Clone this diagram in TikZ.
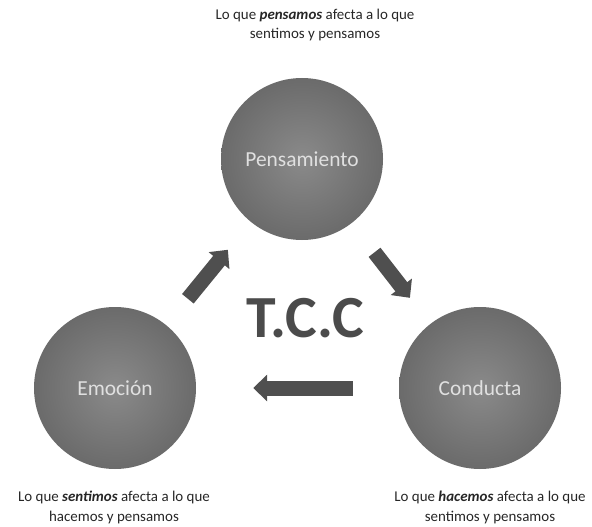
\documentclass[tikz,border=0pt]{standalone}
\usepackage{fontspec}
\setmainfont{Carlito}
\usetikzlibrary{arrows.meta, positioning}

\definecolor{orbin}{HTML}{8A8A8A}
\definecolor{orbmid}{HTML}{6C6C6C}
\definecolor{orbedge}{HTML}{575757}
\definecolor{orbout}{HTML}{464646}
\definecolor{arrowgray}{HTML}{4F4F4F}
\definecolor{titlegray}{HTML}{4B4B4B}
\pgfdeclareradialshading{orbshade}{\pgfpoint{0bp}{0bp}}{color(0bp)=(orbin); color(24bp)=(orbmid); color(44bp)=(orbedge); color(50bp)=(orbout)}

\begin{document}
\begin{tikzpicture}[
    x=1bp, y=-1bp,
    % Style definitions
    orb/.style={circle, minimum size=162bp, inner sep=0pt, shading=orbshade, text=white!88!black, font=\fontsize{21.5}{24}\selectfont},
    caption/.style={align=center, text=black!85, font=\fontsize{15}{20}\selectfont},
    flow/.style={line width=15bp, arrowgray, -{Triangle[width=26bp, length=14bp]}},
]
\useasboundingbox (0,0) rectangle (592,527);

%% ---------- CIRCLES ----------
\node[orb] (pens) at (302,159) {Pensamiento};
\node[orb] (emo) at (115,388) {Emoción};
\node[orb] (cond) at (480,388) {Conducta};

%% ---------- CENTRE TITLE ----------
\node[font=\fontsize{60}{60}\selectfont\bfseries, text=titlegray] (tcc) at (305,318) {T.C.C};

%% ---------- CAPTIONS ----------
\node[caption] (pens_cap) at (315,25) {Lo que \textbf{\textit{pensamos}} afecta a lo que\\sentimos y pensamos};
\node[caption] (emo_cap) at (114,507) {Lo que \textbf{\textit{sentimos}} afecta a lo que\\hacemos y pensamos};
\node[caption] (cond_cap) at (490,507) {Lo que \textbf{\textit{hacemos}} afecta a lo que\\sentimos y pensamos};

%% ========== ARROWS ==========
\draw[flow, shorten <=34bp, shorten >=36bp] (emo) -- (pens);
\draw[flow, shorten <=37bp, shorten >=33bp] (pens) -- (cond);
\draw[flow, shorten <=46bp, shorten >=57bp] (cond) -- (emo);

\end{tikzpicture}
\end{document}
